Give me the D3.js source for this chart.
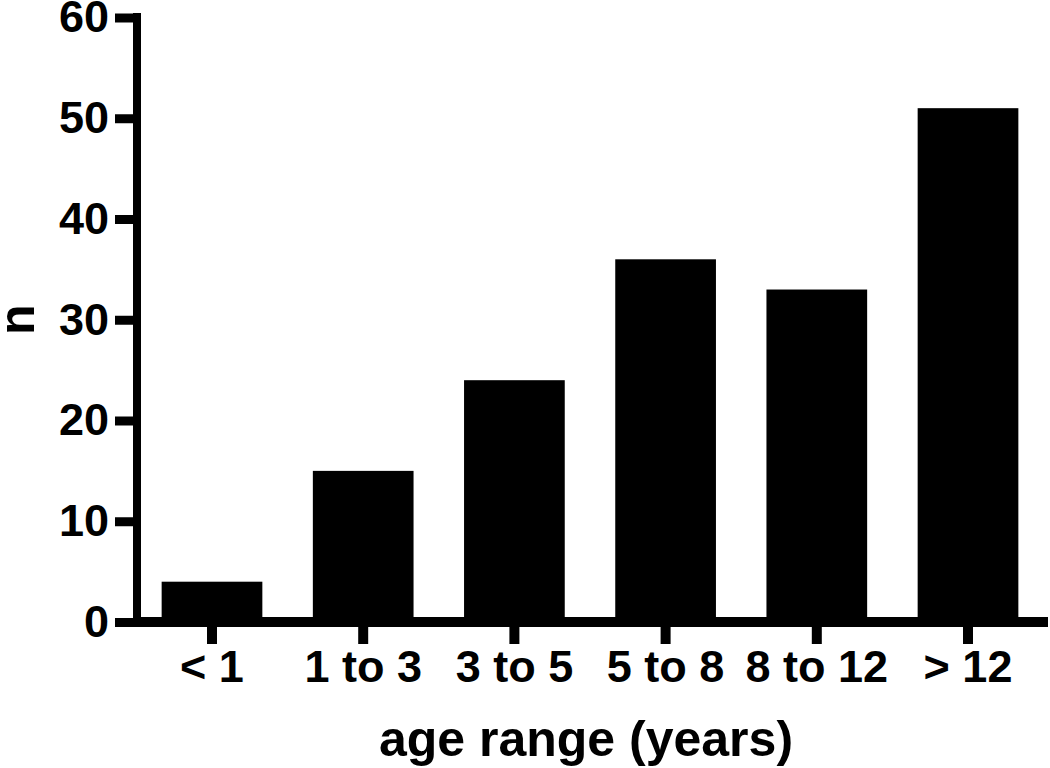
<!DOCTYPE html>
<html>
<head>
<meta charset="utf-8">
<script src="https://cdn.jsdelivr.net/npm/d3@7"></script>
<style>
  body { margin: 0; background: #fff; }
  svg { display: block; }
  text { font-family: "Liberation Sans", Arial, sans-serif; font-weight: bold; fill: #000; }
</style>
</head>
<body>
<div id="chart"></div>
<script>
const categories = ['< 1', '1 to 3', '3 to 5', '5 to 8', '8 to 12', '> 12'];
const counts = [4, 15, 24, 36, 33, 51];
const yTicks = [0, 10, 20, 30, 40, 50, 60];

const width = 1050, height = 768;
const axisX = 137, axisY = 622;
const lineW = 9;

let svg = d3.select('#chart').append('svg')
    .attr('width', width)
    .attr('height', height);

let x = d3.scaleBand()
    .domain(categories)
    .range([axisX, 1043])
    .paddingInner(0.334)
    .paddingOuter(0.163);

let y = d3.scaleLinear()
    .domain([0, 60])
    .range([axisY, 17.5]);

// bars
svg.append('g').selectAll('rect')
    .data(counts)
    .enter()
    .append('rect')
    .attr('x', function(d, i) {return x(categories[i])})
    .attr('y', function(d) {return y(d)})
    .attr('width', x.bandwidth())
    .attr('height', function(d) {return y(0) - y(d)})
    .attr('fill', '#000');

// y axis
let yAxis = svg.append('g')
    .attr('transform', 'translate(' + axisX + ',0)')
    .call(d3.axisLeft(y).tickValues(yTicks).tickSize(22).tickPadding(6).tickFormat(d3.format('d')));
yAxis.select('.domain').remove();
yAxis.selectAll('.tick line').attr('stroke', '#000').attr('stroke-width', lineW);
yAxis.selectAll('.tick text').style('font-size', '45px');

// x axis
let xAxis = svg.append('g')
    .attr('transform', 'translate(0,' + axisY + ')')
    .call(d3.axisBottom(x).tickSize(22).tickPadding(6));
xAxis.select('.domain').remove();
xAxis.selectAll('.tick line').attr('stroke', '#000').attr('stroke-width', lineW + 1);
xAxis.selectAll('.tick text').style('font-size', '45px');

// axis lines
svg.append('line')
    .attr('x1', axisX).attr('x2', axisX)
    .attr('y1', y(60) - lineW / 2).attr('y2', axisY + lineW / 2)
    .attr('stroke', '#000').attr('stroke-width', lineW - 1);
svg.append('line')
    .attr('x1', axisX - 4).attr('x2', 1048)
    .attr('y1', axisY).attr('y2', axisY)
    .attr('stroke', '#000').attr('stroke-width', lineW + 1);

// axis titles
svg.append('text')
    .attr('x', 586)
    .attr('y', 756)
    .attr('text-anchor', 'middle')
    .style('font-size', '50px')
    .text('age range (years)');

svg.append('text')
    .attr('transform', 'translate(34,' + y(30) + ') rotate(-90)')
    .attr('text-anchor', 'middle')
    .style('font-size', '50px')
    .text('n');
</script>
</body>
</html>
